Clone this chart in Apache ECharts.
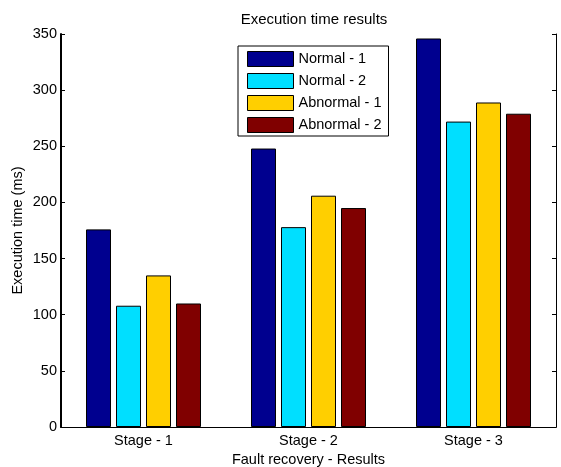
<!DOCTYPE html>
<html>
<head>
<meta charset="utf-8">
<title>Execution time results</title>
<script src="https://cdn.jsdelivr.net/npm/echarts@6/dist/echarts.min.js"></script>
<style>
  html, body { margin: 0; padding: 0; background: #fff; }
  #chart { width: 561px; height: 467px; }
</style>
</head>
<body>
<div id="chart"></div>
<script>
// data
var stages = ['Stage - 1', 'Stage - 2', 'Stage - 3'];
var normal1 = [176, 248, 346];
var normal2 = [108, 178, 272];
var abnormal1 = [135, 206, 289];
var abnormal2 = [110, 195, 279];
var seriesNames = ['Normal - 1', 'Normal - 2', 'Abnormal - 1', 'Abnormal - 2'];
var seriesColors = ['#00008f', '#00dfff', '#ffcf00', '#800000'];

var font = 'Liberation Sans, Arial, sans-serif';
var valuesList = [normal1, normal2, abnormal1, abnormal2];

var series = valuesList.map(function (vals, i) {
    return {
        name: seriesNames[i],
        type: 'bar',
        data: vals,
        barWidth: 25,
        barGap: '20%',
        itemStyle: { color: seriesColors[i], borderColor: '#000', borderWidth: 1 }
    };
});

var chart = echarts.init(document.getElementById('chart'));
chart.setOption({
    animation: false,
    title: {
        text: 'Execution time results',
        left: 309, textAlign: 'center', top: 7,
        textStyle: { fontFamily: font, fontSize: 15, fontWeight: 'normal', color: '#000' }
    },
    legend: {
        orient: 'vertical',
        left: 238, top: 46,
        itemWidth: 46, itemHeight: 15, itemGap: 6,
        padding: [5, 7, 3, 9],
        borderColor: '#000', borderWidth: 1,
        icon: 'rect',
        itemStyle: { borderColor: '#000', borderWidth: 1 },
        textStyle: { fontFamily: font, fontSize: 14.5, color: '#000' },
        data: seriesNames
    },
    grid: { left: 61, right: 5, top: 34, bottom: 40, outerBoundsMode: 'none', containLabel: false },
    xAxis: [{
        type: 'category', data: stages,
        name: 'Fault recovery - Results', nameLocation: 'middle', nameGap: 25,
        nameMoveOverlap: false,
        nameTextStyle: { fontFamily: font, fontSize: 14.5, color: '#000' },
        axisLine: { lineStyle: { color: '#000', width: 1 } },
        axisTick: { inside: true, alignWithLabel: true, length: 4, lineStyle: { color: '#000' } },
        axisLabel: { fontFamily: font, fontSize: 14.5, color: '#000', margin: 6 }
    }, {
        type: 'category', data: stages, position: 'top',
        axisLine: { lineStyle: { color: '#000', width: 1 } },
        axisTick: { inside: true, alignWithLabel: true, length: 4, lineStyle: { color: '#000' } },
        axisLabel: { show: false }
    }],
    yAxis: [{
        type: 'value', min: 0, max: 350, interval: 50,
        name: 'Execution time (ms)', nameLocation: 'middle', nameGap: 36,
        nameMoveOverlap: false,
        nameTextStyle: { fontFamily: font, fontSize: 14.5, color: '#000' },
        axisLine: { show: true, lineStyle: { color: '#000', width: 2 } },
        axisTick: { show: true, inside: true, length: 4, lineStyle: { color: '#000' } },
        axisLabel: { fontFamily: font, fontSize: 14.5, color: '#000', margin: 4 },
        splitLine: { show: false }
    }, {
        type: 'value', min: 0, max: 350, interval: 50, position: 'right',
        axisLine: { show: true, lineStyle: { color: '#000', width: 1 } },
        axisTick: { show: true, inside: true, length: 4, lineStyle: { color: '#000' } },
        axisLabel: { show: false },
        splitLine: { show: false }
    }],
    series: series
});
</script>
</body>
</html>
